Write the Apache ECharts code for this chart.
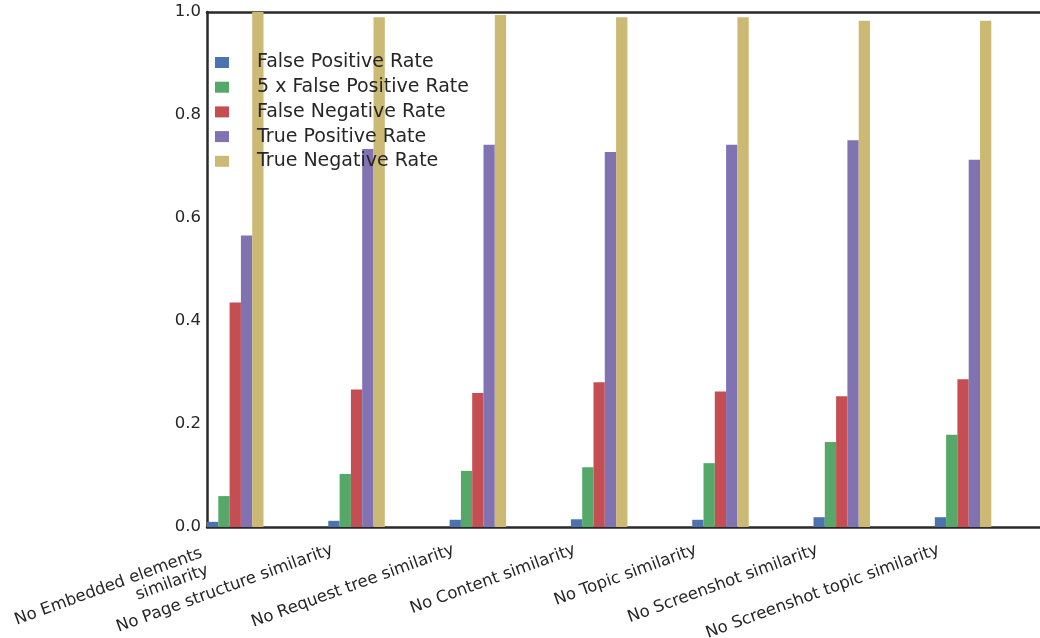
<!DOCTYPE html>
<html>
<head>
<meta charset="utf-8">
<script src="https://cdn.jsdelivr.net/npm/echarts@6/dist/echarts.min.js"></script>
<style>
html,body{margin:0;padding:0;background:#fff;}
#chart{width:1040px;height:638px;}
</style>
</head>
<body>
<div id="chart"></div>
<script>
const categories = ['No Embedded elements\nsimilarity', 'No Page structure similarity', 'No Request tree similarity', 'No Content similarity', 'No Topic similarity', 'No Screenshot similarity', 'No Screenshot topic similarity'];
const seriesNames = ['False Positive Rate', '5 x False Positive Rate', 'False Negative Rate', 'True Positive Rate', 'True Negative Rate'];
const falsePositive = [0.010, 0.012, 0.014, 0.015, 0.014, 0.019, 0.019];
const falsePositive5 = [0.060, 0.103, 0.109, 0.116, 0.124, 0.165, 0.179];
const falseNegative = [0.436, 0.267, 0.260, 0.281, 0.263, 0.254, 0.287];
const truePositive = [0.566, 0.734, 0.742, 0.728, 0.742, 0.751, 0.713];
const trueNegative = [1.000, 0.990, 0.994, 0.990, 0.990, 0.983, 0.983];
const yTicks = [0.0, 0.2, 0.4, 0.6, 0.8, 1.0];
const colors = ['#4C72B0', '#55A868', '#C44E52', '#8172B2', '#CCB974'];

const values = [falsePositive, falsePositive5, falseNegative, truePositive, trueNegative];
const FONT = 'DejaVu Sans';
const TXT = '#262626';
const LINE = '#2a2a2a';
const plotLeft = 207, plotTop = 12, plotH = 515;
const band = 121.3;
const barW = 11.3;
const groupW = barW * seriesNames.length;
const barGridLeft = plotLeft + groupW / 2 - band / 2;
const labelShiftX = 1;

const chart = echarts.init(document.getElementById('chart'), null, {renderer: 'canvas'});
chart.setOption({
  animation: false,
  color: colors,
  grid: [
    {left: barGridLeft, top: plotTop, width: band * categories.length, height: plotH, show: false, outerBoundsMode: 'none', containLabel: false},
    {left: plotLeft + labelShiftX, top: plotTop, width: band * (categories.length - 1), height: plotH, show: false, outerBoundsMode: 'none', containLabel: false},
    {left: plotLeft, top: plotTop, right: 0, height: plotH, show: false, outerBoundsMode: 'none', containLabel: false}
  ],
  legend: {
    orient: 'vertical', left: 215, top: 53, padding: 0,
    icon: 'rect', itemWidth: 14, itemHeight: 11, itemGap: 5.7,
    data: seriesNames,
    textStyle: {fontFamily: FONT, fontSize: 19, color: TXT, lineHeight: 19, padding: [0, 0, 0, 23]}
  },
  xAxis: [
    {type: 'category', gridIndex: 0, data: categories, boundaryGap: true, show: false},
    {type: 'category', gridIndex: 1, data: categories, boundaryGap: false,
     axisLine: {show: false}, axisTick: {show: false}, splitLine: {show: false},
     axisLabel: {interval: 0, rotate: 20, align: 'right', verticalAlign: 'top', margin: 14,
       fontFamily: FONT, fontSize: 16.5, color: TXT, lineHeight: 18,
       formatter: v => v.indexOf('\n') >= 0 ? v.split('\n').map(s => '{m|' + s + '}').join('\n') : v,
       rich: {m: {fontFamily: FONT, fontSize: 16.5, color: TXT, lineHeight: 18, padding: [0, 10, 0, 0]}}}},
    {type: 'value', gridIndex: 2, position: 'bottom', min: 0, max: 1,
     axisLine: {show: true, onZero: false, lineStyle: {color: LINE, width: 2.5}},
     axisTick: {show: false}, axisLabel: {show: false}, splitLine: {show: false}},
    {type: 'value', gridIndex: 2, position: 'top', min: 0, max: 1,
     axisLine: {show: true, onZero: false, lineStyle: {color: LINE, width: 2.5}},
     axisTick: {show: false}, axisLabel: {show: false}, splitLine: {show: false}}
  ],
  yAxis: [
    {type: 'value', gridIndex: 0, min: 0, max: 1, show: false},
    {type: 'value', gridIndex: 1, min: 0, max: 1, show: false},
    {type: 'value', gridIndex: 2, min: 0, max: 1, interval: 0.2,
     axisLine: {show: true, onZero: false, lineStyle: {color: LINE, width: 2.5}},
     axisTick: {show: false}, splitLine: {show: false},
     axisLabel: {margin: 6, fontFamily: FONT, fontSize: 16.5, color: TXT,
       formatter: v => yTicks.find(t => Math.abs(t - v) < 1e-9).toFixed(1)}}
  ],
  series: seriesNames.map((name, k) => ({
    name: name, type: 'bar', xAxisIndex: 0, yAxisIndex: 0,
    data: values[k], barWidth: barW, barGap: '0%',
    itemStyle: {color: colors[k]}
  }))
});
</script>
</body>
</html>
